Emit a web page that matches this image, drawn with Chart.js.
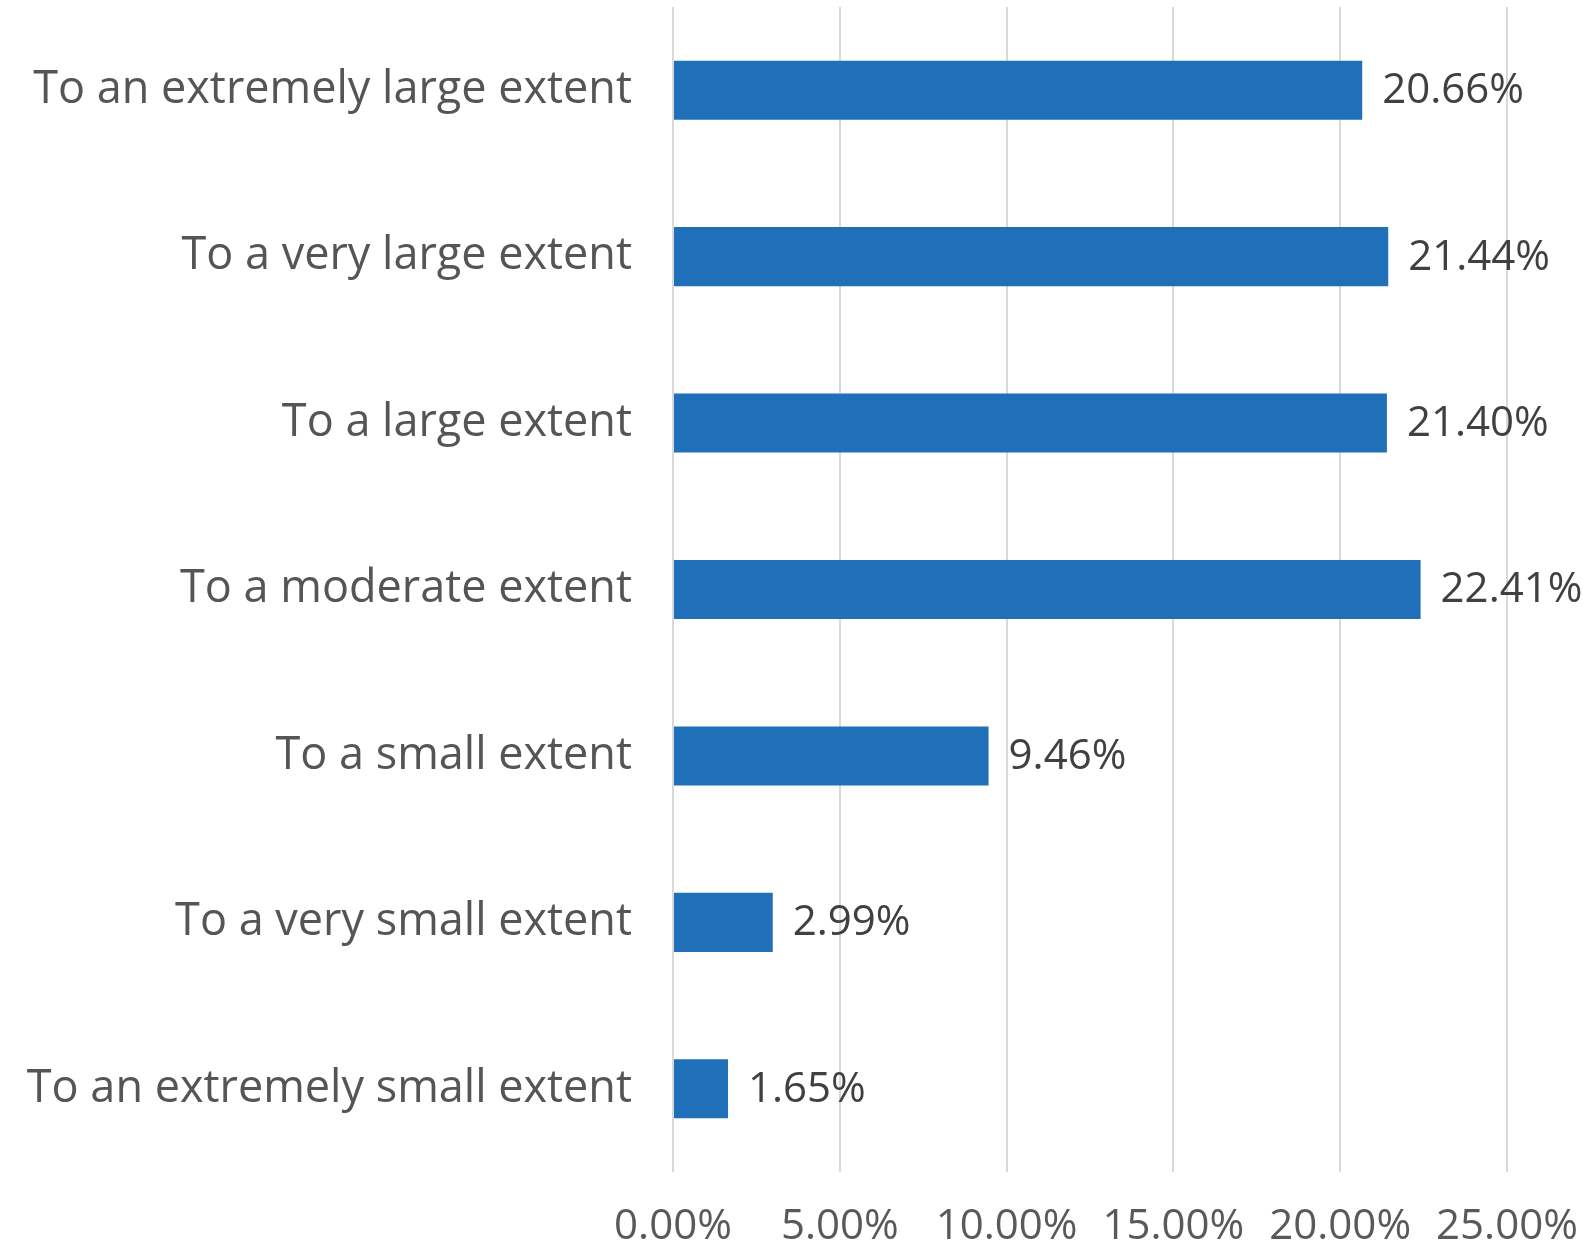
<!DOCTYPE html>
<html lang="en">
<head>
  <meta charset="UTF-8">
  <title>Extent responses</title>
  <script src="https://cdn.jsdelivr.net/npm/chart.js"></script>
  <style>
    * { box-sizing:border-box; }
    html, body { margin:0; padding:0; background:#fff; overflow:hidden; }
    canvas { display:block; }
  </style>
</head>
<body>
<canvas id="chartExtent" width="1583" height="1249"></canvas>

<script>
  // categories, top to bottom
  const categories = [
    'To an extremely large extent',
    'To a very large extent',
    'To a large extent',
    'To a moderate extent',
    'To a small extent',
    'To a very small extent',
    'To an extremely small extent'
  ];
  // share of responses (%)
  const shares = [20.66, 21.44, 21.40, 22.41, 9.46, 2.99, 1.65];
  // x axis ticks (%)
  const xTicks = [0, 5, 10, 15, 20, 25];

  const FONT = "'Open Sans', Lato, sans-serif";
  const FONT_SIZE = 42;

  // value labels drawn to the right of each bar
  const valueLabels = {
    id: 'valueLabels',
    afterDatasetsDraw(chart){
      const ctx = chart.ctx;
      const meta = chart.getDatasetMeta(0);
      ctx.save();
      ctx.font = FONT_SIZE + 'px ' + FONT;
      ctx.fillStyle = '#404040';
      ctx.textAlign = 'left';
      ctx.textBaseline = 'middle';
      meta.data.forEach((bar, i) => {
        ctx.fillText(shares[i].toFixed(2) + '%', bar.x + 20, bar.y + 1);
      });
      ctx.restore();
    }
  };

  new Chart(document.getElementById('chartExtent'), {
    type: 'bar',
    data: {
      labels: categories,
      datasets: [{
        data: shares,
        backgroundColor: '#1f70b8',
        borderWidth: 0,
        categoryPercentage: 0.355,
        barPercentage: 1
      }]
    },
    options: {
      indexAxis: 'y',
      responsive: false,
      animation: false,
      devicePixelRatio: 1,
      layout: { padding: { top: 7, right: 76, left: 0, bottom: 0 } },
      plugins: { legend: { display:false }, tooltip: { enabled:false } },
      scales: {
        x: {
          min: 0, max: 25,
          afterBuildTicks: s => { s.ticks = xTicks.map(v => ({ value: v })); },
          afterFit: s => { s.height = 77; s.paddingLeft = 0; s.paddingRight = 0; },
          grid: { color:'#d9d9d9', lineWidth:2, drawTicks:false },
          border: { display:false },
          ticks: {
            padding: 30,
            color: '#595959',
            font: { family: FONT, size: FONT_SIZE },
            callback: v => v.toFixed(2) + '%'
          }
        },
        y: {
          afterFit: s => { s.width = 673; s.paddingTop = 0; s.paddingBottom = 0; },
          grid: { display:false },
          border: { display:false },
          ticks: {
            padding: 33,
            color: '#555555',
            font: { family: FONT, size: 45 }
          }
        }
      }
    },
    plugins: [valueLabels]
  });
</script>
</body>
</html>
